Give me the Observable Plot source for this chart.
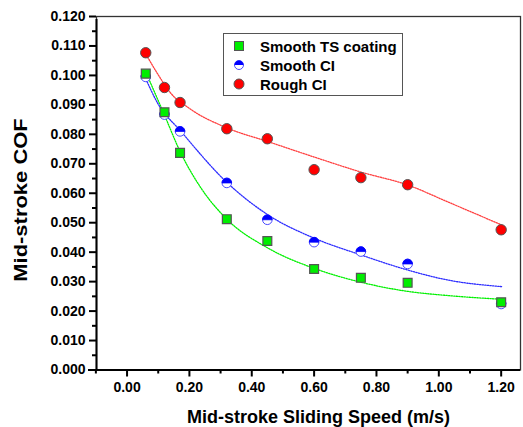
<!DOCTYPE html>
<html>
<head>
<meta charset="utf-8">
<script src="https://cdn.jsdelivr.net/npm/d3@7"></script>
<script src="https://cdn.jsdelivr.net/npm/@observablehq/plot@0.6"></script>
<style>
  html, body { margin: 0; padding: 0; background: #fff; }
  #wrap { position: relative; width: 523px; height: 427px; font-family: "Liberation Sans", Arial, sans-serif; }
  #legend { position: absolute; left: 223px; top: 33px; width: 180px; height: 63px; border: 1.5px solid #555; background: #fff; box-sizing: border-box; }
  .lrow { position: absolute; left: 0; height: 19px; display: flex; align-items: center; }
  .lrow svg { position: absolute; left: 8px; }
  .lrow span { position: absolute; left: 36px; font-weight: bold; font-size: 15px; white-space: nowrap; color: #000; }
  #ytitle { position: absolute; left: 21px; top: 200px; white-space: nowrap; font-weight: bold; font-size: 18px; line-height: 18px; color: #000;
            transform: translate(-50%, -50%) rotate(-90deg) scaleX(1.22); }
</style>
</head>
<body>
<div id="wrap"><div id="legend"></div><div id="ytitle"></div></div>
<script>
// ---- data ----
const seriesNames = ["Smooth TS coating", "Smooth CI", "Rough CI"];
const speed = [0.06, 0.12, 0.17, 0.32, 0.45, 0.60, 0.75, 0.90, 1.20];
const cofTS = [0.1006, 0.0875, 0.0737, 0.0512, 0.0438, 0.0343, 0.0313, 0.0296, 0.0230];
const cofSmoothCI = [0.0995, 0.0867, 0.0810, 0.0635, 0.0510, 0.0434, 0.0402, 0.0360, 0.0224];
const cofRoughCI = [0.1077, 0.0959, 0.0908, 0.0819, 0.0785, 0.0680, 0.0653, 0.0629, 0.0476];

// fitted curves
const fitTSx = [0.066, 0.119, 0.170, 0.237, 0.322, 0.45, 0.60, 0.75, 0.90, 1.026, 1.202];
const fitTSy = [0.0997, 0.0868, 0.0742, 0.0618, 0.0510, 0.0415, 0.0345, 0.0298, 0.0267, 0.0253, 0.0240];
const fitSCx = [0.061, 0.098, 0.173, 0.322, 0.45, 0.599, 0.749, 0.898, 1.026, 1.202];
const fitSCy = [0.0986, 0.0906, 0.0810, 0.0635, 0.0528, 0.0448, 0.0391, 0.0340, 0.0306, 0.0283];
const fitRCx = [0.066, 0.10, 0.14, 0.20, 0.32, 0.45, 0.60, 0.75, 0.90, 1.03, 1.20];
const fitRCy = [0.1062, 0.1002, 0.0940, 0.0888, 0.0822, 0.0776, 0.0723, 0.0672, 0.0628, 0.0570, 0.0493];

const yMajor = d3.range(0, 0.1201, 0.01);
const yMinor = d3.range(0.005, 0.12, 0.01);
const xMajor = [0, 0.2, 0.4, 0.6, 0.8, 1.0, 1.2];
const xMinor = [-0.1, 0.1, 0.3, 0.5, 0.7, 0.9, 1.1];
const xDomain = [-0.098, 1.262];
const yDomain = [0, 0.12];
const xTitle = "Mid-stroke Sliding Speed (m/s)";
const yTitle = "Mid-stroke COF";

const pts = (xs, ys) => xs.map((x, i) => ({x, y: ys[i]}));
const dTS = pts(speed, cofTS), dSC = pts(speed, cofSmoothCI), dRC = pts(speed, cofRoughCI);
const fTS = pts(fitTSx, fitTSy), fSC = pts(fitSCx, fitSCy), fRC = pts(fitRCx, fitRCy);

const halfTop = {
  draw(context, size) {
    const r = Math.sqrt(size / Math.PI);
    context.moveTo(-r, 0);
    context.arc(0, 0, r, Math.PI, 2 * Math.PI);
    context.closePath();
  }
};

const lineOpts = {x: "x", y: "y", curve: "monotone-x", strokeWidth: 1.3, strokeDasharray: "1.3,1.3"};
const font = "Liberation Sans, Arial, sans-serif";

const chart = Plot.plot({
  width: 523, height: 427,
  marginLeft: 96, marginRight: 3, marginTop: 16, marginBottom: 57.5,
  x: {domain: xDomain},
  y: {domain: yDomain},
  style: {fontFamily: font, fontWeight: "bold", fontSize: "14px", color: "#000", background: "#fff"},
  marks: [
    Plot.frame({stroke: "#333", strokeWidth: 1.3}),
    Plot.line(fTS, {...lineOpts, stroke: "#00f000"}),
    Plot.line(fSC, {...lineOpts, stroke: "#2e2eff"}),
    Plot.line(fRC, {...lineOpts, stroke: "#ff4040"}),
    Plot.dot(dSC, {x: "x", y: "y", r: 4.8, fill: "#fff", stroke: "#4a4aff", strokeWidth: 1}),
    Plot.dot(dSC, {x: "x", y: "y", r: 4.8, symbol: halfTop, fill: "#0000ff", stroke: "#0000ff", strokeWidth: 0.8}),
    Plot.dot(dTS, {x: "x", y: "y", r: 5, symbol: "square", fill: "#00ee00", stroke: "#555", strokeWidth: 1.2}),
    Plot.dot(dRC, {x: "x", y: "y", r: 5.2, fill: "#ff0000", stroke: "#555", strokeWidth: 1}),
    Plot.ruleX([xDomain[0]], {stroke: "#000", strokeWidth: 2, y1: yDomain[0], y2: yDomain[1], insetBottom: -3}),
    Plot.ruleY([yDomain[0]], {stroke: "#000", strokeWidth: 2, x1: xDomain[0], x2: xDomain[1], insetLeft: -8}),
    Plot.axisY(yMajor, {tickSize: 7, tickPadding: 4, strokeWidth: 2, tickFormat: d3.format(".3f"), label: null, fontSize: 14, fontWeight: "bold"}),
    Plot.axisY(yMinor, {tickSize: 4, strokeWidth: 2, tickFormat: () => "", label: null}),
    Plot.axisX(xMajor, {tickSize: 7, tickPadding: 5, strokeWidth: 2, tickFormat: d3.format(".2f"), label: null, fontSize: 14, fontWeight: "bold"}),
    Plot.axisX(xMinor, {tickSize: 4, strokeWidth: 2, tickFormat: () => "", label: null}),
    Plot.text([xTitle], {frameAnchor: "bottom", textAnchor: "middle", lineAnchor: "middle", dx: 10, dy: 47, fontSize: 18, fontWeight: "bold"})
  ]
});
document.getElementById("wrap").prepend(chart);
document.getElementById("ytitle").textContent = yTitle;

// legend
const legend = document.getElementById("legend");
const legendSymbols = [
  '<svg width="14" height="14"><rect x="2.5" y="2.5" width="9" height="9" fill="#00ee00" stroke="#555" stroke-width="1"/></svg>',
  '<svg width="14" height="14"><circle cx="7" cy="7" r="4.5" fill="#fff" stroke="#4a4aff" stroke-width="1"/><path d="M2.5,7 A4.5,4.5 0 0 1 11.5,7 Z" fill="#0000ff"/></svg>',
  '<svg width="14" height="14"><circle cx="7" cy="7" r="5" fill="#ff0000" stroke="#555" stroke-width="1"/></svg>'
];
seriesNames.forEach((name, i) => {
  const row = document.createElement("div");
  row.className = "lrow";
  row.style.top = (2.5 + i * 19) + "px";
  row.innerHTML = legendSymbols[i] + "<span>" + name + "</span>";
  legend.appendChild(row);
});
</script>
</body>
</html>
